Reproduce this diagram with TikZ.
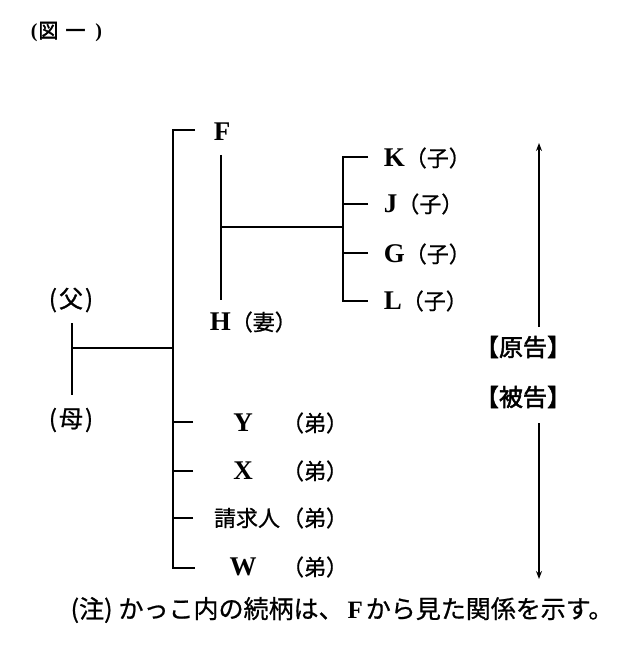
\documentclass[tikz,border=0pt]{standalone}
\usepackage{fontspec}
\usetikzlibrary{arrows.meta}
\setmainfont{Liberation Serif}
\newfontfamily\jp[FakeBold=0.8,AutoFakeBold=2]{Noto Sans CJK JP}
\newcommand{\rel}[1]{{\jp （#1）}}
\newcommand{\nm}[1]{{\fontsize{27}{28}\selectfont\bfseries #1}}
\tikzset{
  lbl/.style={inner sep=0pt, font=\fontsize{22}{24}\selectfont},
  tip/.style={-{Stealth[length=8pt,width=6pt]}}
}
\begin{document}
\begin{tikzpicture}[x=1pt,y=-1pt,line width=1.6pt]
\useasboundingbox (0,0) rectangle (640,652);

\node[lbl,anchor=west,font=\fontsize{20}{22}\selectfont\bfseries] (title) at (30,32)
  {(\hspace{1pt}{\jp 図}\hspace{7pt}{\jp 一}\hspace{10pt})};

% parents
\node[lbl,font=\fontsize{24}{26}\selectfont] (fa) at (71,300) {{\jp (\hspace{2pt}父\hspace{2pt})}};
\node[lbl,font=\fontsize{24}{26}\selectfont] (mo) at (71,420) {{\jp (\hspace{2pt}母\hspace{2pt})}};
\coordinate (pt) at (72,323);
\coordinate (pb) at (72,395);
\coordinate (bar) at (173,348);
\draw (pt) -- (pb);
\draw (pt |- bar) -- (bar);

% F and wife
\node[lbl] (f) at (222,132) {\nm{F}};
\node[lbl,anchor=west] (h) at (209,322) {\nm{H}\rel{妻}};
\coordinate (tf) at (195,130);
\coordinate (ft) at (221,155);
\coordinate (hb) at (221,300);
\draw (ft) -- (hb);

% brothers
\node[lbl] (y) at (243,423) {\nm{Y}};
\node[lbl] (x) at (243,471) {\nm{X}};
\node[lbl] (c) at (247,518) {{\jp 請求人}};
\node[lbl] (w) at (243,567) {\nm{W}};
\node[lbl] (ry) at (315,423) {\rel{弟}};
\node[lbl] (rx) at (315,471) {\rel{弟}};
\node[lbl] (rc) at (315,518) {\rel{弟}};
\node[lbl] (rw) at (315,567) {\rel{弟}};
\coordinate (ty) at (193,422);
\coordinate (tx) at (193,471);
\coordinate (tr) at (193,518);
\coordinate (tw) at (195,568);
\draw (tf) -- (tf -| bar) -- (tw -| bar) -- (tw);
\foreach \t in {ty,tx,tr}
  \draw (\t) -- (\t -| bar);

% children
\node[lbl,anchor=west] (k) at (383,158) {\nm{K}\rel{子}};
\node[lbl,anchor=west] (j) at (383,204) {\nm{J}\rel{子}};
\node[lbl,anchor=west] (g) at (383,254) {\nm{G}\rel{子}};
\node[lbl,anchor=west] (l) at (383,301) {\nm{L}\rel{子}};
\coordinate (cb) at (343,227);
\coordinate (ck) at (368,157);
\coordinate (cj) at (368,204);
\coordinate (cg) at (368,253);
\coordinate (cl) at (368,301);
\draw (ft |- cb) -- (cb);
\draw (ck) -- (ck -| cb) -- (cl -| cb) -- (cl);
\draw (cj) -- (cj -| cb);
\draw (cg) -- (cg -| cb);

% parties
\node[lbl,font=\fontsize{24}{26}\selectfont] (gen) at (523,347) {{\jp\bfseries 【原告】}};
\node[lbl,font=\fontsize{24}{26}\selectfont] (hi) at (523,397) {{\jp\bfseries 【被告】}};
\coordinate (a1) at (539,327);
\coordinate (a2) at (539,143);
\coordinate (b1) at (539,423);
\coordinate (b2) at (539,579);
\draw[tip,line width=1.3pt] (a1) -- (a2);
\draw[tip,line width=1.3pt] (b1) -- (b2);

% note
\node[lbl,font=\fontsize{25}{28}\selectfont] (note) at (342,610)
  {{\jp (注)\hspace{6pt}かっこ内の続柄は、}\hspace{4pt}{\fontsize{25}{28}\selectfont\bfseries F}\hspace{3pt}{\jp から見た関係を示す。}};
\end{tikzpicture}
\end{document}
